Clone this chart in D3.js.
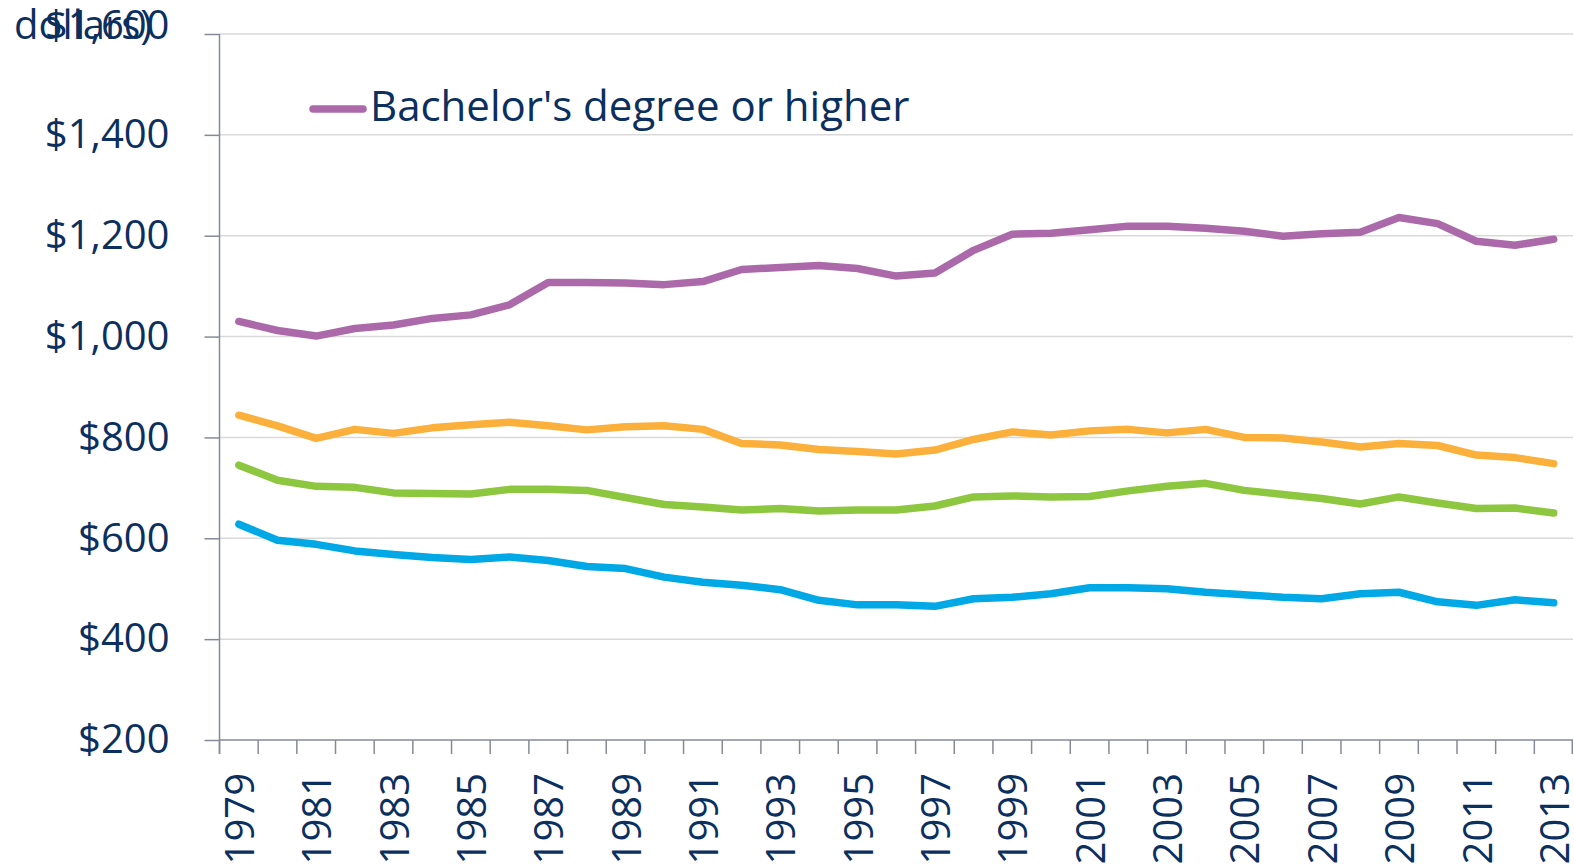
<!DOCTYPE html>
<html>
<head>
<meta charset="utf-8">
<script src="https://cdn.jsdelivr.net/npm/d3@7"></script>
<style>
  body { margin: 0; background: #fff; }
  svg { display: block; font-family: "Open Sans", sans-serif; }
</style>
</head>
<body>
<svg></svg>
<script>
const size = {w: 1574, h: 867};
const plot = {l: 219.5, r: 1573, t: 34, b: 740};

// weekly earnings, constant dollars
const years = d3.range(1979, 2014);
const bachelors = [1030, 1012, 1001, 1016, 1023, 1036, 1043, 1063, 1107, 1107,
  1106, 1103, 1109, 1133, 1137, 1141, 1135, 1120, 1126, 1171,
  1203, 1205, 1212, 1219, 1219, 1215, 1209, 1199, 1204, 1207,
  1236, 1224, 1189, 1181, 1193];
const someCollege = [844, 823, 798, 816, 808, 819, 825, 830, 823, 815,
  821, 823, 816, 788, 785, 776, 772, 767, 775, 796,
  811, 805, 813, 816, 809, 816, 800, 799, 791, 781,
  788, 784, 765, 760, 748];
const highSchool = [745, 715, 703, 701, 690, 689, 688, 697, 697, 695,
  681, 667, 662, 656, 659, 654, 656, 656, 664, 682,
  684, 682, 683, 694, 703, 709, 695, 687, 679, 668,
  682, 670, 659, 660, 650];
const lessThanHS = [628, 596, 588, 575, 568, 562, 558, 563, 556, 544,
  540, 523, 513, 507, 498, 477, 468, 468, 465, 480,
  483, 490, 502, 502, 500, 493, 488, 483, 480, 490,
  493, 474, 467, 478, 472];
const yTicks = [200, 400, 600, 800, 1000, 1200, 1400, 1600];

const series = [
  {name: 'Bachelor\'s degree or higher', values: bachelors, color: '#ab69aa'},
  {name: 'Some college', values: someCollege, color: '#fbb03b'},
  {name: 'High school', values: highSchool, color: '#8dc63f'},
  {name: 'Less than high school', values: lessThanHS, color: '#00a8e6'}
];

const textColor = '#0b2f5e';
const axisColor = '#868a98';

const svg = d3.select('svg')
    .attr('width', size.w)
    .attr('height', size.h);

const x = d3.scaleBand()
    .domain(years)
    .range([plot.l, plot.r])
    .padding(0);

const y = d3.scaleLinear()
    .domain([200, 1600])
    .range([plot.b, plot.t]);

// gridlines
svg.append('g').classed('grid', true)
  .selectAll('line')
  .data(yTicks.slice(1))
  .join('line')
    .attr('x1', plot.l)
    .attr('x2', plot.r)
    .attr('y1', d => y(d))
    .attr('y2', d => y(d))
    .attr('stroke', '#d9d9d9')
    .attr('stroke-width', 1.5);

// y axis
const yAxisG = svg.append('g')
    .attr('transform', `translate(${plot.l},0)`)
    .call(d3.axisLeft(y)
      .tickValues(yTicks)
      .tickSize(15)
      .tickPadding(35)
      .tickFormat(d => '$' + d3.format(',')(d)));
yAxisG.select('.domain').remove();
yAxisG.selectAll('.tick line').attr('stroke', axisColor).attr('stroke-width', 1.5);
yAxisG.selectAll('.tick text')
    .attr('fill', textColor)
    .style('font-size', '40px')
    .style('font-family', '"Open Sans", sans-serif');
// top label gets pushed down to stay in the chart area
yAxisG.selectAll('.tick text').filter(d => d === 1600).attr('dy', '0.1em');

svg.append('line')
    .attr('x1', plot.l).attr('x2', plot.l)
    .attr('y1', plot.t).attr('y2', plot.b + 14)
    .attr('stroke', axisColor).attr('stroke-width', 1.5);

// x axis: ticks on the band edges, labels every other year
const xAxisG = svg.append('g').classed('x-axis', true);
xAxisG.append('line')
    .attr('x1', plot.l).attr('x2', plot.r)
    .attr('y1', plot.b).attr('y2', plot.b)
    .attr('stroke', axisColor).attr('stroke-width', 1.5);
xAxisG.selectAll('line.tick')
  .data(years.concat([null]))
  .join('line')
    .classed('tick', true)
    .attr('x1', d => d === null ? plot.r - 0.75 : x(d))
    .attr('x2', d => d === null ? plot.r - 0.75 : x(d))
    .attr('y1', plot.b)
    .attr('y2', plot.b + 14)
    .attr('stroke', axisColor).attr('stroke-width', 1.5);
xAxisG.selectAll('text')
  .data(years.filter(d => d % 2 === 1))
  .join('text')
    .attr('transform', d => `translate(${x(d) + x.bandwidth() / 2},773) rotate(-90)`)
    .attr('dy', '0.38em')
    .attr('text-anchor', 'end')
    .attr('fill', textColor)
    .style('font-size', '40px')
    .text(d => d);

// lines
const line = d3.line()
    .x((d, i) => x(years[i]) + x.bandwidth() / 2)
    .y(d => y(d));

svg.append('g').classed('lines', true)
  .selectAll('path')
  .data(series)
  .join('path')
    .attr('d', d => line(d.values))
    .attr('fill', 'none')
    .attr('stroke', d => d.color)
    .attr('stroke-width', 7.5)
    .attr('stroke-linecap', 'round')
    .attr('stroke-linejoin', 'round');

// legend (only the first entry is visible in the chart)
const legendG = svg.append('g').classed('legend', true);
legendG.append('line')
    .attr('x1', 313).attr('x2', 363)
    .attr('y1', 109).attr('y2', 109)
    .attr('stroke', series[0].color)
    .attr('stroke-width', 7.5)
    .attr('stroke-linecap', 'round');
legendG.append('text')
    .attr('x', 370)
    .attr('y', 121)
    .attr('fill', textColor)
    .style('font-size', '42px')
    .text(series[0].name);

// axis title, cut off at the edge
svg.append('text')
    .attr('x', 14)
    .attr('y', 39)
    .attr('fill', textColor)
    .style('font-size', '40px')
    .text('dollars)');
</script>
</body>
</html>
